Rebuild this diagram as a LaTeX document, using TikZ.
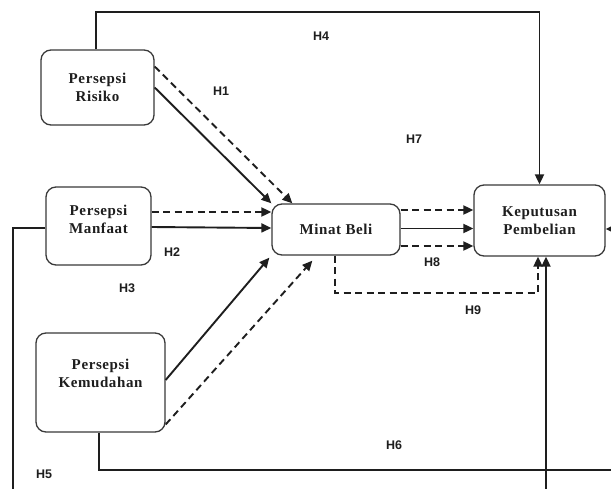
\documentclass[tikz,border=0pt]{standalone}
\usepackage{fontspec}
\setmainfont{Liberation Serif}
\newfontfamily\labfont{Liberation Sans}
\usetikzlibrary{arrows.meta,positioning}
\definecolor{ink}{HTML}{1E1E1E}
\definecolor{boxline}{HTML}{3A3A3A}
\tikzset{
  boxnode/.style={draw=boxline, line width=1.3pt, rounded corners=10pt, fill=white,
    align=center, font=\fontsize{15}{18}\selectfont\bfseries\addfontfeature{LetterSpace=4}, text=ink, inner sep=0pt},
  boxtext/.style={align=center, font=\fontsize{15}{18}\selectfont\bfseries\addfontfeature{LetterSpace=4}, text=ink, inner sep=0pt},
  hlabel/.style={font=\labfont\bfseries\fontsize{12.5}{14}\selectfont, text=ink, inner sep=0pt},
  conn/.style={draw=ink, line width=1.9pt, -{Triangle[length=10pt,width=9pt]}},
  dconn/.style={conn, dash pattern=on 7pt off 4.5pt},
}
\begin{document}
\begin{tikzpicture}[x=1pt,y=-1pt]
\clip (0,0) rectangle (611,488);
\fill[white] (0,0) rectangle (611,488);

% boxes
\node[boxnode, minimum width=113pt, minimum height=75pt] (ris) at (97.5,87.5) {Persepsi\\Risiko};
\node[boxnode, minimum width=105pt, minimum height=78pt, text depth=14pt] (man) at (98.5,226) {Persepsi\\Manfaat};
\node[boxnode, minimum width=128pt, minimum height=51pt] (min) at (336,229.5) {Minat Beli};
\node[boxnode, minimum width=131pt, minimum height=71pt] (kep) at (539.5,220.5) {Keputusan\\Pembelian};
\node[boxnode, minimum width=129pt, minimum height=99pt] (kem) at (100.5,382.5) {};
\node[boxtext] (kemtext) at (100.5,373) {Persepsi\\Kemudahan};

% coordinates for routed connectors
\coordinate (h4c) at (539.5,12);
\coordinate (h9c) at (538,293);
\coordinate (h5a) at (13,520);
\coordinate (h5b) at (546,520);
\coordinate (h6c) at (630,470);

% Risiko -> Minat
\draw[conn] (ris.east) -- (min.north west);
\draw[dconn] ([yshift=21pt]ris.east) -- ([xshift=21pt]min.north west);
% Manfaat -> Minat
\draw[dconn] ([yshift=14pt]man.east) -- ([yshift=17.5pt]min.west);
\draw[conn] ([yshift=-1pt]man.east) -- ([yshift=1.5pt]min.west);
% Kemudahan -> Minat
\draw[conn] ([yshift=2.5pt]kem.east) -- ([xshift=-2pt,yshift=-2pt]min.south west);
\draw[dconn] ([yshift=-42pt]kem.east) -- ([xshift=41pt,yshift=-5pt]min.south west);
% Minat -> Keputusan
\draw[dconn] ([yshift=19.5pt]min.east) -- ([yshift=19.5pt]min.east -| kep.west);
\draw[conn] ([yshift=1pt]min.east) -- ([yshift=1pt]min.east -| kep.west);
\draw[dconn] ([yshift=-16.5pt]min.east) -- ([yshift=-16.5pt]min.east -| kep.west);
% H4: Risiko -> Keputusan
\draw[conn] ([xshift=-1.5pt]ris.north) |- (h4c) -- (kep.north);
% H9: Minat -> Keputusan (dashed)
\draw[dconn] ([xshift=-1pt]min.south) |- (h9c) -- (h9c |- kep.south);
% H5: Manfaat -> Keputusan
\draw[conn] ([yshift=-2pt]man.west) -| (h5a) -- (h5b) -- (h5b |- kep.south);
% H6: Kemudahan -> Keputusan
\draw[conn] ([xshift=-1.5pt]kem.south) |- (h6c) |- ([yshift=-8.5pt]kep.east);

% labels
\node[hlabel] (l1) at (221,91) {H1};
\node[hlabel] (l4) at (321,36) {H4};
\node[hlabel] (l7) at (414,139) {H7};
\node[hlabel] (l2) at (172,252) {H2};
\node[hlabel] (l3) at (127,288) {H3};
\node[hlabel] (l5) at (44,474) {H5};
\node[hlabel] (l6) at (394,445) {H6};
\node[hlabel] (l8) at (432,262) {H8};
\node[hlabel] (l9) at (473,310) {H9};
\end{tikzpicture}
\end{document}
